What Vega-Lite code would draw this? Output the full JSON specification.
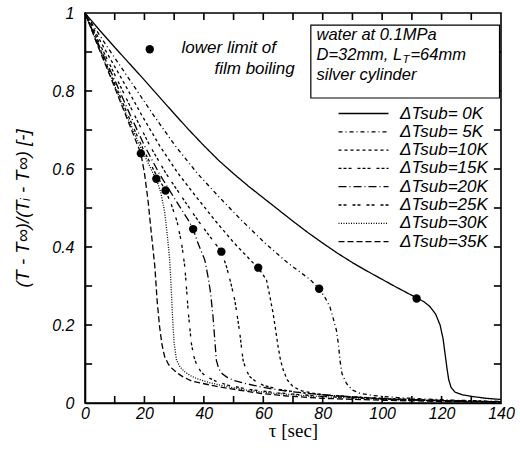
{
  "$schema": "https://vega.github.io/schema/vega-lite/v6.json",
  "width": 416,
  "height": 390,
  "autosize": {"type": "none"},
  "padding": {"left": 85, "top": 13, "right": 19, "bottom": 54},
  "background": "white",
  "config": {
    "view": {"stroke": "black", "strokeWidth": 1.6},
    "font": "Liberation Sans",
    "axis": {"grid": false, "domainColor": "black", "domainWidth": 1.6, "labelColor": "black", "titleColor": "black"}
  },
  "datasets": {
    "curves": [
      {"s": "ΔTsub= 0K", "t": 0, "v": 1}, {"s": "ΔTsub= 0K", "t": 5, "v": 0.955}, {"s": "ΔTsub= 0K", "t": 10, "v": 0.912}, {"s": "ΔTsub= 0K", "t": 15, "v": 0.87}, {"s": "ΔTsub= 0K", "t": 20, "v": 0.828}, {"s": "ΔTsub= 0K", "t": 25, "v": 0.785}, {"s": "ΔTsub= 0K", "t": 30, "v": 0.742}, {"s": "ΔTsub= 0K", "t": 35, "v": 0.7}, {"s": "ΔTsub= 0K", "t": 40, "v": 0.66}, {"s": "ΔTsub= 0K", "t": 45, "v": 0.622}, {"s": "ΔTsub= 0K", "t": 50, "v": 0.588}, {"s": "ΔTsub= 0K", "t": 55, "v": 0.556}, {"s": "ΔTsub= 0K", "t": 60, "v": 0.526}, {"s": "ΔTsub= 0K", "t": 65, "v": 0.496}, {"s": "ΔTsub= 0K", "t": 70, "v": 0.466}, {"s": "ΔTsub= 0K", "t": 75, "v": 0.437}, {"s": "ΔTsub= 0K", "t": 80, "v": 0.41}, {"s": "ΔTsub= 0K", "t": 85, "v": 0.384}, {"s": "ΔTsub= 0K", "t": 90, "v": 0.36}, {"s": "ΔTsub= 0K", "t": 95, "v": 0.338}, {"s": "ΔTsub= 0K", "t": 100, "v": 0.317}, {"s": "ΔTsub= 0K", "t": 105, "v": 0.296}, {"s": "ΔTsub= 0K", "t": 110, "v": 0.276}, {"s": "ΔTsub= 0K", "t": 112, "v": 0.268}, {"s": "ΔTsub= 0K", "t": 114, "v": 0.26}, {"s": "ΔTsub= 0K", "t": 116, "v": 0.248}, {"s": "ΔTsub= 0K", "t": 118, "v": 0.228}, {"s": "ΔTsub= 0K", "t": 119.5, "v": 0.2}, {"s": "ΔTsub= 0K", "t": 120.5, "v": 0.165}, {"s": "ΔTsub= 0K", "t": 121.2, "v": 0.125}, {"s": "ΔTsub= 0K", "t": 121.8, "v": 0.09}, {"s": "ΔTsub= 0K", "t": 122.4, "v": 0.06}, {"s": "ΔTsub= 0K", "t": 123.2, "v": 0.04}, {"s": "ΔTsub= 0K", "t": 124.5, "v": 0.028}, {"s": "ΔTsub= 0K", "t": 127, "v": 0.021}, {"s": "ΔTsub= 0K", "t": 131, "v": 0.016}, {"s": "ΔTsub= 0K", "t": 135, "v": 0.012}, {"s": "ΔTsub= 0K", "t": 140, "v": 0.009},
      {"s": "ΔTsub= 5K", "t": 0, "v": 1}, {"s": "ΔTsub= 5K", "t": 7.6, "v": 0.912}, {"s": "ΔTsub= 5K", "t": 15.1, "v": 0.828}, {"s": "ΔTsub= 5K", "t": 22.7, "v": 0.742}, {"s": "ΔTsub= 5K", "t": 30.3, "v": 0.66}, {"s": "ΔTsub= 5K", "t": 37.9, "v": 0.588}, {"s": "ΔTsub= 5K", "t": 45.4, "v": 0.526}, {"s": "ΔTsub= 5K", "t": 53, "v": 0.466}, {"s": "ΔTsub= 5K", "t": 60.6, "v": 0.41}, {"s": "ΔTsub= 5K", "t": 68.1, "v": 0.36}, {"s": "ΔTsub= 5K", "t": 75.7, "v": 0.317}, {"s": "ΔTsub= 5K", "t": 78.8, "v": 0.293}, {"s": "ΔTsub= 5K", "t": 80.8, "v": 0.27}, {"s": "ΔTsub= 5K", "t": 82.4, "v": 0.247}, {"s": "ΔTsub= 5K", "t": 83.6, "v": 0.215}, {"s": "ΔTsub= 5K", "t": 84.6, "v": 0.187}, {"s": "ΔTsub= 5K", "t": 85.3, "v": 0.15}, {"s": "ΔTsub= 5K", "t": 85.8, "v": 0.11}, {"s": "ΔTsub= 5K", "t": 86.5, "v": 0.075}, {"s": "ΔTsub= 5K", "t": 88, "v": 0.05}, {"s": "ΔTsub= 5K", "t": 90, "v": 0.033}, {"s": "ΔTsub= 5K", "t": 92.5, "v": 0.025}, {"s": "ΔTsub= 5K", "t": 97, "v": 0.019}, {"s": "ΔTsub= 5K", "t": 105, "v": 0.014}, {"s": "ΔTsub= 5K", "t": 115, "v": 0.01}, {"s": "ΔTsub= 5K", "t": 125, "v": 0.007}, {"s": "ΔTsub= 5K", "t": 140, "v": 0.004},
      {"s": "ΔTsub=10K", "t": 0, "v": 1}, {"s": "ΔTsub=10K", "t": 6.3, "v": 0.912}, {"s": "ΔTsub=10K", "t": 12.6, "v": 0.828}, {"s": "ΔTsub=10K", "t": 18.8, "v": 0.742}, {"s": "ΔTsub=10K", "t": 25.1, "v": 0.66}, {"s": "ΔTsub=10K", "t": 31.4, "v": 0.588}, {"s": "ΔTsub=10K", "t": 37.7, "v": 0.526}, {"s": "ΔTsub=10K", "t": 44, "v": 0.466}, {"s": "ΔTsub=10K", "t": 50.2, "v": 0.41}, {"s": "ΔTsub=10K", "t": 56.5, "v": 0.36}, {"s": "ΔTsub=10K", "t": 58.3, "v": 0.347}, {"s": "ΔTsub=10K", "t": 60, "v": 0.328}, {"s": "ΔTsub=10K", "t": 61.1, "v": 0.315}, {"s": "ΔTsub=10K", "t": 62.3, "v": 0.27}, {"s": "ΔTsub=10K", "t": 63.3, "v": 0.23}, {"s": "ΔTsub=10K", "t": 64.2, "v": 0.185}, {"s": "ΔTsub=10K", "t": 65, "v": 0.144}, {"s": "ΔTsub=10K", "t": 65.8, "v": 0.11}, {"s": "ΔTsub=10K", "t": 66.7, "v": 0.085}, {"s": "ΔTsub=10K", "t": 68, "v": 0.06}, {"s": "ΔTsub=10K", "t": 70, "v": 0.042}, {"s": "ΔTsub=10K", "t": 73, "v": 0.031}, {"s": "ΔTsub=10K", "t": 76.8, "v": 0.025}, {"s": "ΔTsub=10K", "t": 83, "v": 0.019}, {"s": "ΔTsub=10K", "t": 92, "v": 0.014}, {"s": "ΔTsub=10K", "t": 105, "v": 0.009}, {"s": "ΔTsub=10K", "t": 120, "v": 0.006}, {"s": "ΔTsub=10K", "t": 140, "v": 0.003},
      {"s": "ΔTsub=15K", "t": 0, "v": 1}, {"s": "ΔTsub=15K", "t": 5.5, "v": 0.912}, {"s": "ΔTsub=15K", "t": 10.9, "v": 0.828}, {"s": "ΔTsub=15K", "t": 16.4, "v": 0.742}, {"s": "ΔTsub=15K", "t": 21.8, "v": 0.66}, {"s": "ΔTsub=15K", "t": 27.3, "v": 0.588}, {"s": "ΔTsub=15K", "t": 32.8, "v": 0.526}, {"s": "ΔTsub=15K", "t": 38.2, "v": 0.466}, {"s": "ΔTsub=15K", "t": 43.7, "v": 0.41}, {"s": "ΔTsub=15K", "t": 45.9, "v": 0.388}, {"s": "ΔTsub=15K", "t": 47.6, "v": 0.35}, {"s": "ΔTsub=15K", "t": 49, "v": 0.31}, {"s": "ΔTsub=15K", "t": 50.4, "v": 0.264}, {"s": "ΔTsub=15K", "t": 51.3, "v": 0.22}, {"s": "ΔTsub=15K", "t": 52.1, "v": 0.179}, {"s": "ΔTsub=15K", "t": 52.7, "v": 0.14}, {"s": "ΔTsub=15K", "t": 53.2, "v": 0.11}, {"s": "ΔTsub=15K", "t": 54.2, "v": 0.085}, {"s": "ΔTsub=15K", "t": 55.5, "v": 0.067}, {"s": "ΔTsub=15K", "t": 57.5, "v": 0.055}, {"s": "ΔTsub=15K", "t": 59.9, "v": 0.046}, {"s": "ΔTsub=15K", "t": 65, "v": 0.035}, {"s": "ΔTsub=15K", "t": 72, "v": 0.027}, {"s": "ΔTsub=15K", "t": 80, "v": 0.021}, {"s": "ΔTsub=15K", "t": 90, "v": 0.016}, {"s": "ΔTsub=15K", "t": 100, "v": 0.012}, {"s": "ΔTsub=15K", "t": 115, "v": 0.008}, {"s": "ΔTsub=15K", "t": 140, "v": 0.003},
      {"s": "ΔTsub=20K", "t": 0, "v": 1}, {"s": "ΔTsub=20K", "t": 5, "v": 0.912}, {"s": "ΔTsub=20K", "t": 10, "v": 0.828}, {"s": "ΔTsub=20K", "t": 15, "v": 0.742}, {"s": "ΔTsub=20K", "t": 20, "v": 0.66}, {"s": "ΔTsub=20K", "t": 25, "v": 0.588}, {"s": "ΔTsub=20K", "t": 30, "v": 0.526}, {"s": "ΔTsub=20K", "t": 35, "v": 0.466}, {"s": "ΔTsub=20K", "t": 36.4, "v": 0.446}, {"s": "ΔTsub=20K", "t": 38, "v": 0.41}, {"s": "ΔTsub=20K", "t": 40.3, "v": 0.367}, {"s": "ΔTsub=20K", "t": 41.5, "v": 0.32}, {"s": "ΔTsub=20K", "t": 42.3, "v": 0.28}, {"s": "ΔTsub=20K", "t": 43.1, "v": 0.22}, {"s": "ΔTsub=20K", "t": 43.6, "v": 0.17}, {"s": "ΔTsub=20K", "t": 44.2, "v": 0.11}, {"s": "ΔTsub=20K", "t": 45, "v": 0.088}, {"s": "ΔTsub=20K", "t": 46.2, "v": 0.075}, {"s": "ΔTsub=20K", "t": 47.6, "v": 0.067}, {"s": "ΔTsub=20K", "t": 50, "v": 0.058}, {"s": "ΔTsub=20K", "t": 54, "v": 0.05}, {"s": "ΔTsub=20K", "t": 60, "v": 0.04}, {"s": "ΔTsub=20K", "t": 68, "v": 0.03}, {"s": "ΔTsub=20K", "t": 80, "v": 0.021}, {"s": "ΔTsub=20K", "t": 95, "v": 0.013}, {"s": "ΔTsub=20K", "t": 115, "v": 0.007}, {"s": "ΔTsub=20K", "t": 140, "v": 0.003},
      {"s": "ΔTsub=25K", "t": 0, "v": 1}, {"s": "ΔTsub=25K", "t": 4.75, "v": 0.912}, {"s": "ΔTsub=25K", "t": 9.5, "v": 0.828}, {"s": "ΔTsub=25K", "t": 14.25, "v": 0.742}, {"s": "ΔTsub=25K", "t": 19, "v": 0.66}, {"s": "ΔTsub=25K", "t": 23.75, "v": 0.588}, {"s": "ΔTsub=25K", "t": 27.1, "v": 0.545}, {"s": "ΔTsub=25K", "t": 29, "v": 0.51}, {"s": "ΔTsub=25K", "t": 31, "v": 0.465}, {"s": "ΔTsub=25K", "t": 32.5, "v": 0.41}, {"s": "ΔTsub=25K", "t": 33.6, "v": 0.349}, {"s": "ΔTsub=25K", "t": 34.2, "v": 0.29}, {"s": "ΔTsub=25K", "t": 34.7, "v": 0.238}, {"s": "ΔTsub=25K", "t": 35.3, "v": 0.19}, {"s": "ΔTsub=25K", "t": 35.8, "v": 0.153}, {"s": "ΔTsub=25K", "t": 36.6, "v": 0.12}, {"s": "ΔTsub=25K", "t": 37.5, "v": 0.1}, {"s": "ΔTsub=25K", "t": 39, "v": 0.08}, {"s": "ΔTsub=25K", "t": 40.9, "v": 0.067}, {"s": "ΔTsub=25K", "t": 44, "v": 0.056}, {"s": "ΔTsub=25K", "t": 48, "v": 0.046}, {"s": "ΔTsub=25K", "t": 55, "v": 0.035}, {"s": "ΔTsub=25K", "t": 65, "v": 0.026}, {"s": "ΔTsub=25K", "t": 80, "v": 0.017}, {"s": "ΔTsub=25K", "t": 100, "v": 0.01}, {"s": "ΔTsub=25K", "t": 120, "v": 0.006}, {"s": "ΔTsub=25K", "t": 140, "v": 0.003},
      {"s": "ΔTsub=30K", "t": 0, "v": 1}, {"s": "ΔTsub=30K", "t": 4.6, "v": 0.912}, {"s": "ΔTsub=30K", "t": 9.2, "v": 0.828}, {"s": "ΔTsub=30K", "t": 13.8, "v": 0.742}, {"s": "ΔTsub=30K", "t": 18.4, "v": 0.66}, {"s": "ΔTsub=30K", "t": 23, "v": 0.588}, {"s": "ΔTsub=30K", "t": 24, "v": 0.575}, {"s": "ΔTsub=30K", "t": 25.5, "v": 0.54}, {"s": "ΔTsub=30K", "t": 26.8, "v": 0.49}, {"s": "ΔTsub=30K", "t": 27.7, "v": 0.43}, {"s": "ΔTsub=30K", "t": 28.5, "v": 0.367}, {"s": "ΔTsub=30K", "t": 29.1, "v": 0.281}, {"s": "ΔTsub=30K", "t": 29.6, "v": 0.2}, {"s": "ΔTsub=30K", "t": 30, "v": 0.153}, {"s": "ΔTsub=30K", "t": 30.8, "v": 0.11}, {"s": "ΔTsub=30K", "t": 32, "v": 0.092}, {"s": "ΔTsub=30K", "t": 33.6, "v": 0.08}, {"s": "ΔTsub=30K", "t": 35.5, "v": 0.07}, {"s": "ΔTsub=30K", "t": 37.5, "v": 0.063}, {"s": "ΔTsub=30K", "t": 41, "v": 0.054}, {"s": "ΔTsub=30K", "t": 45.4, "v": 0.046}, {"s": "ΔTsub=30K", "t": 50, "v": 0.039}, {"s": "ΔTsub=30K", "t": 54.3, "v": 0.033}, {"s": "ΔTsub=30K", "t": 62, "v": 0.026}, {"s": "ΔTsub=30K", "t": 75, "v": 0.018}, {"s": "ΔTsub=30K", "t": 95, "v": 0.011}, {"s": "ΔTsub=30K", "t": 115, "v": 0.006}, {"s": "ΔTsub=30K", "t": 140, "v": 0.003},
      {"s": "ΔTsub=35K", "t": 0, "v": 1}, {"s": "ΔTsub=35K", "t": 4.5, "v": 0.912}, {"s": "ΔTsub=35K", "t": 9, "v": 0.828}, {"s": "ΔTsub=35K", "t": 13.5, "v": 0.742}, {"s": "ΔTsub=35K", "t": 18.8, "v": 0.64}, {"s": "ΔTsub=35K", "t": 20, "v": 0.59}, {"s": "ΔTsub=35K", "t": 21.2, "v": 0.52}, {"s": "ΔTsub=35K", "t": 22.4, "v": 0.43}, {"s": "ΔTsub=35K", "t": 23.5, "v": 0.35}, {"s": "ΔTsub=35K", "t": 24.3, "v": 0.26}, {"s": "ΔTsub=35K", "t": 25.1, "v": 0.196}, {"s": "ΔTsub=35K", "t": 25.9, "v": 0.15}, {"s": "ΔTsub=35K", "t": 26.8, "v": 0.119}, {"s": "ΔTsub=35K", "t": 28, "v": 0.1}, {"s": "ΔTsub=35K", "t": 29.1, "v": 0.09}, {"s": "ΔTsub=35K", "t": 31, "v": 0.077}, {"s": "ΔTsub=35K", "t": 33, "v": 0.067}, {"s": "ΔTsub=35K", "t": 36, "v": 0.056}, {"s": "ΔTsub=35K", "t": 39.7, "v": 0.05}, {"s": "ΔTsub=35K", "t": 44, "v": 0.043}, {"s": "ΔTsub=35K", "t": 48.7, "v": 0.037}, {"s": "ΔTsub=35K", "t": 53.5, "v": 0.031}, {"s": "ΔTsub=35K", "t": 58.8, "v": 0.025}, {"s": "ΔTsub=35K", "t": 68, "v": 0.018}, {"s": "ΔTsub=35K", "t": 80, "v": 0.012}, {"s": "ΔTsub=35K", "t": 100, "v": 0.007}, {"s": "ΔTsub=35K", "t": 120, "v": 0.004}, {"s": "ΔTsub=35K", "t": 140, "v": 0.002}
    ],
    "dots": [
      {"s": "ΔTsub= 0K", "t": 111.6, "v": 0.268},
      {"s": "ΔTsub= 5K", "t": 78.8, "v": 0.293},
      {"s": "ΔTsub=10K", "t": 58.3, "v": 0.347},
      {"s": "ΔTsub=15K", "t": 45.9, "v": 0.388},
      {"s": "ΔTsub=20K", "t": 36.4, "v": 0.446},
      {"s": "ΔTsub=25K", "t": 27.1, "v": 0.545},
      {"s": "ΔTsub=30K", "t": 24.0, "v": 0.575},
      {"s": "ΔTsub=35K", "t": 18.8, "v": 0.64}
    ],
    "xticks": [{"tick": 10}, {"tick": 20}, {"tick": 30}, {"tick": 40}, {"tick": 50}, {"tick": 60}, {"tick": 70}, {"tick": 80}, {"tick": 90}, {"tick": 100}, {"tick": 110}, {"tick": 120}, {"tick": 130}],
    "yticks": [{"tick": 0.1}, {"tick": 0.2}, {"tick": 0.3}, {"tick": 0.4}, {"tick": 0.5}, {"tick": 0.6}, {"tick": 0.7}, {"tick": 0.8}, {"tick": 0.9}],
    "one": [{}]
  },
  "layer": [
    {
      "data": {"name": "curves"},
      "mark": {"type": "line", "color": "black", "strokeWidth": 1.3},
      "encoding": {
        "x": {"field": "t", "type": "quantitative", "scale": {"domain": [0, 140], "nice": false},
          "axis": {"orient": "bottom", "values": [0,20,40,60,80,100,120,140], "ticks": false, "labelFont": "Liberation Sans", "labelFontStyle": "italic", "labelFontSize": 16, "labelPadding": 2, "labelFlush": false, "title": "τ  [sec]", "titleFont": "Liberation Serif", "titleFontSize": 19, "titleFontWeight": "normal", "titleX": 208, "titleY": 27, "titleBaseline": "middle", "titleAlign": "center"}},
        "y": {"field": "v", "type": "quantitative", "scale": {"domain": [0, 1], "nice": false},
          "axis": {"orient": "left", "values": [0,0.2,0.4,0.6,0.8,1], "ticks": false, "labelExpr": "format(datum.value, '~g')", "labelFont": "Liberation Sans", "labelFontStyle": "italic", "labelFontSize": 16, "labelPadding": 11, "labelFlush": false, "title": "(T - T∞)/(Tᵢ - T∞) [-]", "titleFont": "Liberation Sans", "titleFontStyle": "italic", "titleFontSize": 18.5, "titleFontWeight": "normal", "titleX": -63, "titleY": 195, "titleAngle": -90, "titleBaseline": "middle", "titleAlign": "center"}},
        "strokeDash": {"field": "s", "type": "nominal",
          "scale": {"domain": ["ΔTsub= 0K", "ΔTsub= 5K", "ΔTsub=10K", "ΔTsub=15K", "ΔTsub=20K", "ΔTsub=25K", "ΔTsub=30K", "ΔTsub=35K"],
            "range": [[1, 0], [4, 3, 1, 3], [3, 3], [3, 2, 3, 2, 3, 6], [8, 3, 1, 3], [3, 2, 3, 6], [1, 1.5], [6, 3]]},
          "legend": {"orient": "none", "legendX": 270, "legendY": 92, "padding": 0, "title": null, "symbolType": "M-5,0H5", "symbolSize": 100, "symbolStrokeWidth": 1.3, "symbolStrokeColor": "black", "labelOffset": 28, "labelFont": "Liberation Sans", "labelFontStyle": "italic", "labelFontSize": 17, "labelColor": "black", "labelLimit": 200, "rowPadding": 0.3}}
      }
    },
    {
      "data": {"name": "xticks"},
      "mark": {"type": "rule", "color": "black", "strokeWidth": 1.6},
      "encoding": {"x": {"field": "tick", "type": "quantitative"}, "y": {"datum": 0, "type": "quantitative"}, "y2": {"datum": 0.018}}
    },
    {
      "data": {"name": "xticks"},
      "mark": {"type": "rule", "color": "black", "strokeWidth": 1.6},
      "encoding": {"x": {"field": "tick", "type": "quantitative"}, "y": {"datum": 1, "type": "quantitative"}, "y2": {"datum": 0.982}}
    },
    {
      "data": {"name": "yticks"},
      "mark": {"type": "rule", "color": "black", "strokeWidth": 1.6},
      "encoding": {"y": {"field": "tick", "type": "quantitative"}, "x": {"datum": 0, "type": "quantitative"}, "x2": {"datum": 2.4}}
    },
    {
      "data": {"name": "yticks"},
      "mark": {"type": "rule", "color": "black", "strokeWidth": 1.6},
      "encoding": {"y": {"field": "tick", "type": "quantitative"}, "x": {"datum": 140, "type": "quantitative"}, "x2": {"datum": 137.6}}
    },
    {
      "data": {"name": "dots"},
      "mark": {"type": "point", "filled": true, "color": "black", "size": 70, "opacity": 1},
      "encoding": {"x": {"field": "t", "type": "quantitative"}, "y": {"field": "v", "type": "quantitative"}}
    },
    {
      "data": {"name": "one"},
      "mark": {"type": "point", "filled": true, "color": "black", "size": 70, "opacity": 1},
      "encoding": {"x": {"datum": 21.8, "type": "quantitative"}, "y": {"datum": 0.907, "type": "quantitative"}}
    },
    {
      "data": {"name": "one"},
      "mark": {"type": "text", "align": "left", "baseline": "middle", "font": "Liberation Sans", "fontStyle": "italic", "fontSize": 17, "color": "black", "text": "lower limit of"},
      "encoding": {"x": {"datum": 32.5, "type": "quantitative"}, "y": {"datum": 0.909, "type": "quantitative"}}
    },
    {
      "data": {"name": "one"},
      "mark": {"type": "text", "align": "right", "baseline": "middle", "font": "Liberation Sans", "fontStyle": "italic", "fontSize": 17, "color": "black", "text": "film boiling"},
      "encoding": {"x": {"datum": 70.6, "type": "quantitative"}, "y": {"datum": 0.856, "type": "quantitative"}}
    },
    {
      "data": {"name": "one"},
      "mark": {"type": "rect", "fill": "white", "stroke": "black", "strokeWidth": 1.2},
      "encoding": {"x": {"datum": 76, "type": "quantitative"}, "x2": {"datum": 139.5}, "y": {"datum": 0.969, "type": "quantitative"}, "y2": {"datum": 0.782}}
    },
    {
      "data": {"name": "one"},
      "mark": {"type": "text", "align": "left", "baseline": "middle", "font": "Liberation Sans", "fontStyle": "italic", "fontSize": 16.5, "color": "black", "text": "water at 0.1MPa"},
      "encoding": {"x": {"datum": 77.9, "type": "quantitative"}, "y": {"datum": 0.944, "type": "quantitative"}}
    },
    {
      "data": {"name": "one"},
      "mark": {"type": "text", "align": "left", "baseline": "middle", "font": "Liberation Sans", "fontStyle": "italic", "fontSize": 16.5, "color": "black", "text": "D=32mm, L"},
      "encoding": {"x": {"datum": 77.9, "type": "quantitative"}, "y": {"datum": 0.892, "type": "quantitative"}}
    },
    {
      "data": {"name": "one"},
      "mark": {"type": "text", "align": "left", "baseline": "middle", "font": "Liberation Sans", "fontStyle": "italic", "fontSize": 11.5, "color": "black", "text": "T", "dx": 86, "dy": 5},
      "encoding": {"x": {"datum": 77.9, "type": "quantitative"}, "y": {"datum": 0.892, "type": "quantitative"}}
    },
    {
      "data": {"name": "one"},
      "mark": {"type": "text", "align": "left", "baseline": "middle", "font": "Liberation Sans", "fontStyle": "italic", "fontSize": 16.5, "color": "black", "text": "=64mm", "dx": 94},
      "encoding": {"x": {"datum": 77.9, "type": "quantitative"}, "y": {"datum": 0.892, "type": "quantitative"}}
    },
    {
      "data": {"name": "one"},
      "mark": {"type": "text", "align": "left", "baseline": "middle", "font": "Liberation Sans", "fontStyle": "italic", "fontSize": 16.5, "color": "black", "text": "silver cylinder"},
      "encoding": {"x": {"datum": 77.9, "type": "quantitative"}, "y": {"datum": 0.841, "type": "quantitative"}}
    }
  ]
}
